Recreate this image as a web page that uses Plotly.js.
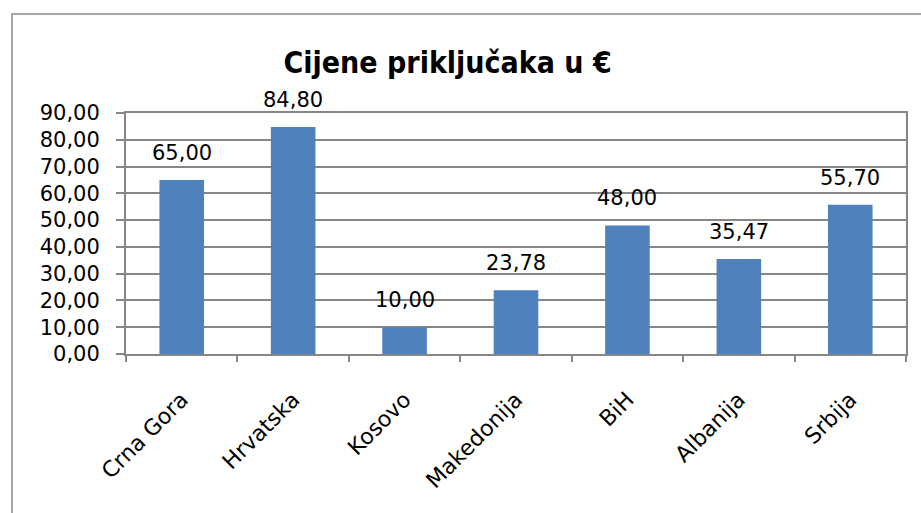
<!DOCTYPE html>
<html>
<head>
<meta charset="utf-8">
<script src="https://cdn.plot.ly/plotly-3.0.1.min.js"></script>
<style>
html,body{margin:0;padding:0;background:#fff;overflow:hidden;}
#chart{position:absolute;left:0;top:0;width:921px;height:513px;}
#frame{position:absolute;left:11px;top:13px;width:920px;height:520px;border:2px solid #a6a6a6;pointer-events:none;box-sizing:border-box;}
</style>
</head>
<body>
<div id="chart"></div>
<div id="frame"></div>
<script>
const categories = ["Crna Gora", "Hrvatska", "Kosovo", "Makedonija", "BiH", "Albanija", "Srbija"];
const prices = [65.00, 84.80, 10.00, 23.78, 48.00, 35.47, 55.70];
const yTicks = [0, 10, 20, 30, 40, 50, 60, 70, 80, 90];

const yFont = {family: "DejaVu Sans", size: 21, color: "#000"};
const xFont = {family: "DejaVu Sans", size: 22, color: "#000"};

const fmt = v => v.toFixed(2).replace(".", ",");

const trace = {
  type: "bar",
  x: categories,
  y: prices,
  marker: {color: "#4F81BD"},
  hoverinfo: "skip"
};

const annotations = categories.map((c, i) => ({
  x: c,
  y: prices[i],
  xref: "x",
  yref: "y",
  text: fmt(prices[i]),
  showarrow: false,
  xanchor: "center",
  yanchor: "middle",
  yshift: 27,
  font: yFont
}));

const layout = {
  width: 921,
  height: 513,
  margin: {l: 126, r: 15, t: 113, b: 159},
  paper_bgcolor: "#fff",
  plot_bgcolor: "#fff",
  separators: ",.",
  showlegend: false,
  bargap: 0.6,
  annotations: annotations,
  title: {
    text: "<b>Cijene priključaka u €</b>",
    font: {family: "DejaVu Sans Condensed", size: 30, color: "#000"},
    x: 0.486,
    xanchor: "center",
    xref: "container",
    y: 0.879,
    yanchor: "middle",
    yref: "container"
  },
  xaxis: {
    type: "category",
    tickangle: -45,
    tickfont: xFont,
    ticklabelstandoff: 22,
    showline: true,
    linecolor: "#868686",
    linewidth: 2,
    mirror: true,
    ticks: "outside",
    tickson: "boundaries",
    ticklen: 6,
    tickcolor: "#868686",
    tickwidth: 2,
    showgrid: false,
    zeroline: false
  },
  yaxis: {
    range: [0, 90],
    tickvals: yTicks,
    tickformat: ".2f",
    tickfont: yFont,
    ticklabelstandoff: 12,
    showline: true,
    linecolor: "#868686",
    linewidth: 2,
    mirror: true,
    ticks: "outside",
    ticklen: 8,
    tickcolor: "#868686",
    tickwidth: 2,
    showgrid: true,
    gridcolor: "#868686",
    gridwidth: 2,
    zeroline: false,
    fixedrange: true
  }
};

Plotly.newPlot("chart", [trace], layout, {displayModeBar: false, staticPlot: true});
</script>
</body>
</html>
